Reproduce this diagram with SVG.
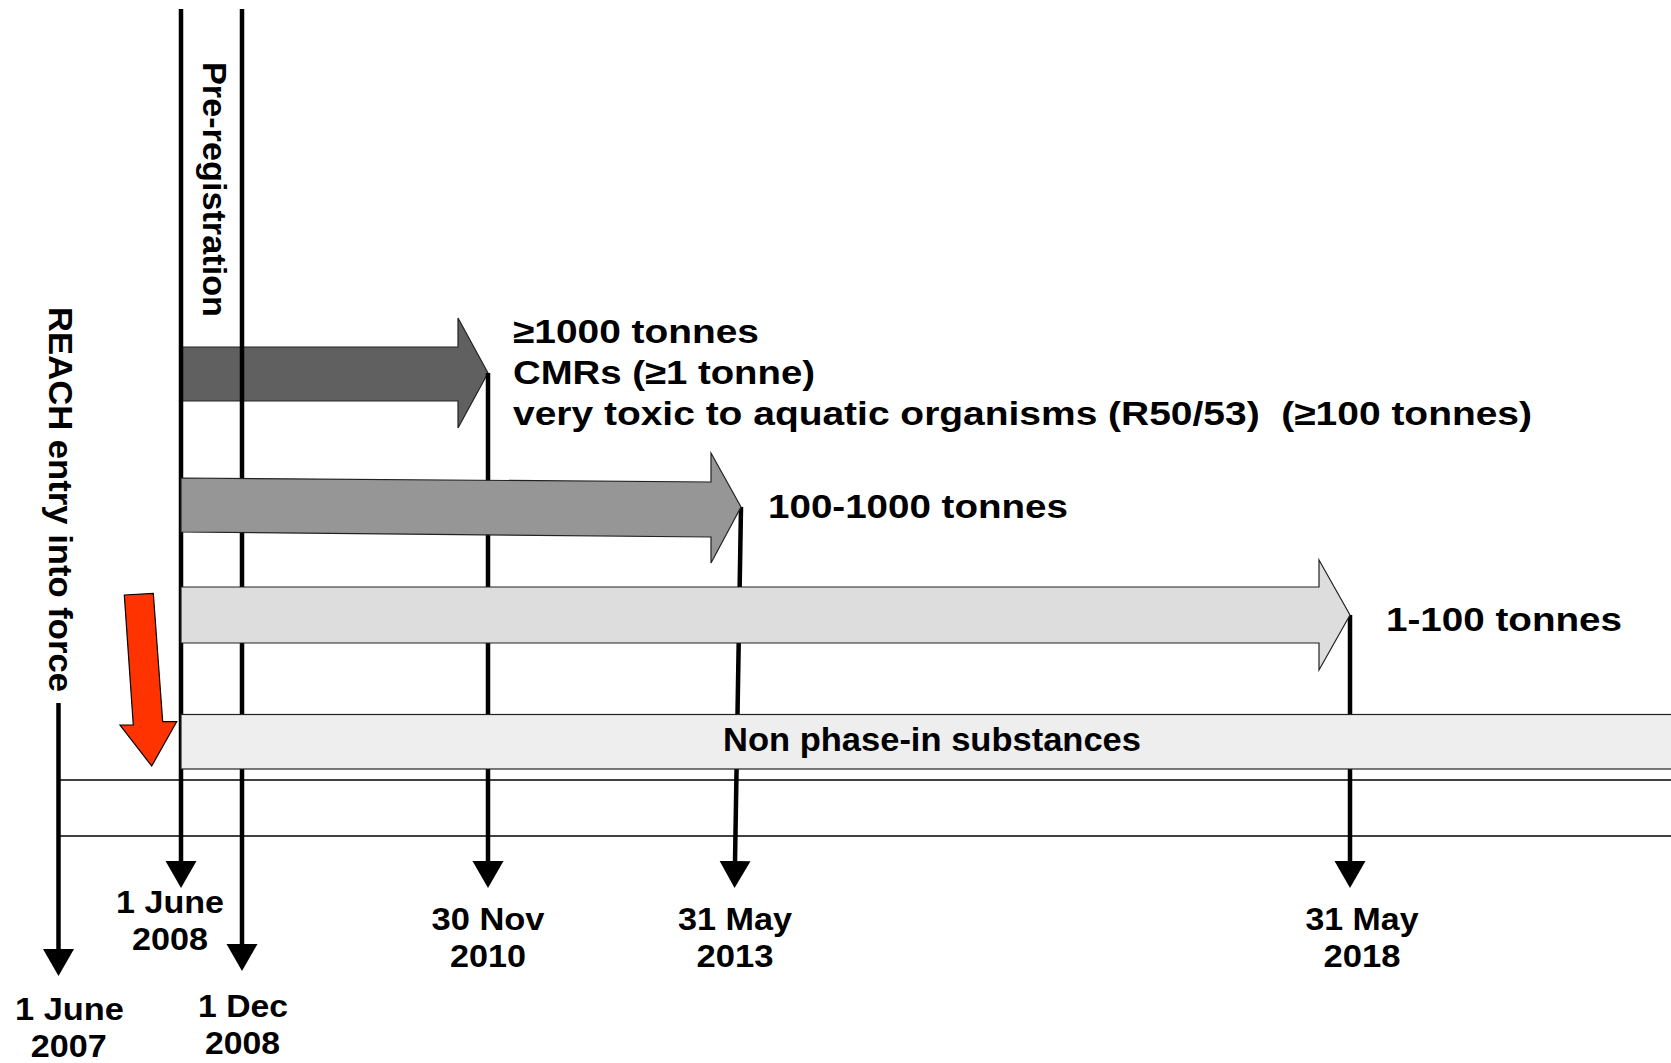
<svg xmlns="http://www.w3.org/2000/svg" width="1671" height="1063" viewBox="0 0 1671 1063">
<style>
text{font-family:"Liberation Sans",Arial,Helvetica,sans-serif;font-weight:bold;fill:#000}
.lbl{font-size:34px}
.date{font-size:32px;text-anchor:middle}
.bar{stroke:#222;stroke-width:1.2}
.vl{stroke:#000;stroke-width:4.5;fill:none}
.hl{stroke:#000;stroke-width:1.4;fill:none}
</style>
<defs>
<marker id="ah" markerUnits="userSpaceOnUse" viewBox="0 -16 29 32" refX="1" refY="0" markerWidth="29" markerHeight="32" orient="auto">
<path d="M0,-15.5 L27,0 L0,15.5 Z" fill="#000"/>
</marker>
</defs>
<rect width="1671" height="1063" fill="#fff"/>

<g id="dark-arrow">
<polygon class="bar" fill="#606060" points="181,347 458,347 458,318 488,373 458,428 458,401 181,401"/>
</g>

<g id="connectors-upper">
<line class="vl" x1="181" y1="9" x2="181" y2="862" marker-end="url(#ah)"/>
<line class="vl" x1="242" y1="9" x2="242" y2="945" marker-end="url(#ah)"/>
<line class="vl" x1="488" y1="373" x2="488" y2="862" marker-end="url(#ah)"/>
<line class="vl" x1="741" y1="507" x2="735" y2="862" marker-end="url(#ah)"/>
<line class="vl" x1="1350" y1="615" x2="1350" y2="862" marker-end="url(#ah)"/>
<line class="vl" x1="58.5" y1="703" x2="58.5" y2="950" marker-end="url(#ah)"/>
<line class="hl" x1="58" y1="780" x2="1671" y2="780"/>
<line class="hl" x1="58" y1="836" x2="1671" y2="836"/>
</g>

<g id="medium-arrow">
<polygon class="bar" fill="#969696" points="181,478 711,482 711,453 741,507 711,563 711,537 181,532"/>
</g>

<g id="light-arrow">
<polygon class="bar" fill="#dddddd" points="181,587 1319,587 1319,560 1350,615 1319,670 1319,643 181,643"/>
</g>

<g id="non-phase-in">
<rect class="bar" fill="#eeeeee" x="181" y="714.5" width="1520" height="54.5"/>
<text x="723" y="751" font-size="33" textLength="418" lengthAdjust="spacingAndGlyphs">Non phase-in substances</text>
</g>

<g id="red-arrow">
<polygon fill="#ff3300" stroke="#000" stroke-width="1.2" points="124.3,595 153.3,593.3 162.7,721.7 176.7,721.7 151.7,766 120,725 133.3,725"/>
</g>

<g id="label-1000">
<text class="lbl" x="513" y="343" textLength="246" lengthAdjust="spacingAndGlyphs">≥1000 tonnes</text>
<text class="lbl" x="513" y="384" textLength="302" lengthAdjust="spacingAndGlyphs">CMRs (≥1 tonne)</text>
<text class="lbl" x="513" y="425" textLength="1019" lengthAdjust="spacingAndGlyphs" style="white-space:pre">very toxic to aquatic organisms (R50/53)  (≥100 tonnes)</text>
</g>

<g id="label-100-1000">
<text class="lbl" x="768" y="518" textLength="300" lengthAdjust="spacingAndGlyphs">100-1000 tonnes</text>
</g>

<g id="label-1-100">
<text class="lbl" x="1386" y="631" textLength="236" lengthAdjust="spacingAndGlyphs">1-100 tonnes</text>
</g>

<g id="label-preregistration">
<text class="lbl" transform="translate(203,62) rotate(90)" x="0" y="0" textLength="255" lengthAdjust="spacingAndGlyphs">Pre-registration</text>
</g>

<g id="label-reach">
<text class="lbl" transform="translate(49,307) rotate(90)" x="0" y="0" textLength="385" lengthAdjust="spacingAndGlyphs">REACH entry into force</text>
</g>

<g id="date-2007">
<text class="date" x="69.5" y="1020" textLength="109" lengthAdjust="spacingAndGlyphs">1 June</text>
<text class="date" x="68.7" y="1057" textLength="76" lengthAdjust="spacingAndGlyphs">2007</text>
</g>
<g id="date-june-2008">
<text class="date" x="170" y="913" textLength="108" lengthAdjust="spacingAndGlyphs">1 June</text>
<text class="date" x="170" y="950" textLength="76" lengthAdjust="spacingAndGlyphs">2008</text>
</g>
<g id="date-dec-2008">
<text class="date" x="243" y="1017" textLength="90" lengthAdjust="spacingAndGlyphs">1 Dec</text>
<text class="date" x="242.5" y="1054" textLength="75" lengthAdjust="spacingAndGlyphs">2008</text>
</g>
<g id="date-2010">
<text class="date" x="488" y="930" textLength="113" lengthAdjust="spacingAndGlyphs">30 Nov</text>
<text class="date" x="488" y="967" textLength="76" lengthAdjust="spacingAndGlyphs">2010</text>
</g>
<g id="date-2013">
<text class="date" x="735" y="930" textLength="114" lengthAdjust="spacingAndGlyphs">31 May</text>
<text class="date" x="735" y="967" textLength="77" lengthAdjust="spacingAndGlyphs">2013</text>
</g>
<g id="date-2018">
<text class="date" x="1362" y="930" textLength="113" lengthAdjust="spacingAndGlyphs">31 May</text>
<text class="date" x="1362" y="967" textLength="77" lengthAdjust="spacingAndGlyphs">2018</text>
</g>
</svg>
